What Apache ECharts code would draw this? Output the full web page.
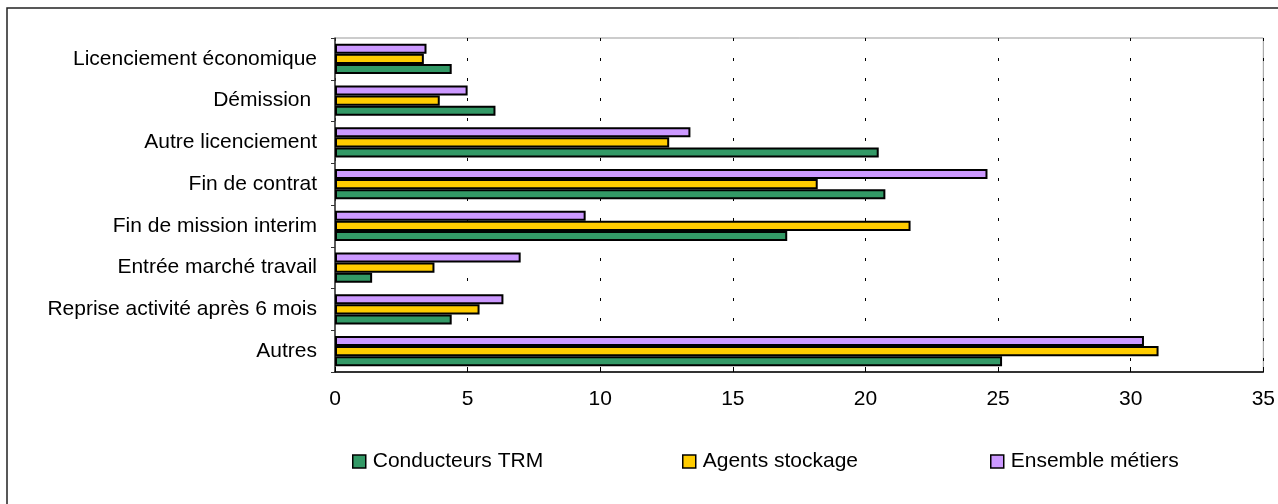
<!DOCTYPE html>
<html>
<head>
<meta charset="utf-8">
<script src="https://cdn.jsdelivr.net/npm/echarts@6/dist/echarts.min.js"></script>
<style>
  html, body { margin: 0; padding: 0; background: #fff; }
  #main { width: 1278px; height: 504px; }
</style>
</head>
<body>
<div id="main"></div>
<script>
// categories, top to bottom
var categories = ['Licenciement économique', 'Démission ', 'Autre licenciement', 'Fin de contrat',
    'Fin de mission interim', 'Entrée marché travail', 'Reprise activité après 6 mois', 'Autres'];
var conducteurs = [4.4, 6.05, 20.5, 20.75, 17.05, 1.4, 4.4, 25.15];
var agents = [3.35, 3.95, 12.6, 18.2, 21.7, 3.75, 5.45, 31.05];
var ensemble = [3.45, 5.0, 13.4, 24.6, 9.45, 7.0, 6.35, 30.5];
var xTicks = [0, 5, 10, 15, 20, 25, 30, 35];

var myChart = echarts.init(document.getElementById('main'));
var font = 'Liberation Sans, Arial, sans-serif';

function barSeries(name, data, color) {
    return {
        name: name,
        type: 'bar',
        data: data,
        barGap: '0%',
        barCategoryGap: '27%',
        itemStyle: { color: color, borderColor: '#000', borderWidth: 2 }
    };
}

function legendAt(name, left) {
    return {
        data: [name],
        left: left,
        top: 446,
        itemWidth: 13,
        itemHeight: 13,
        icon: 'rect',
        itemStyle: { borderColor: '#000', borderWidth: 1.5 },
        textStyle: { fontFamily: font, fontSize: 21, color: '#000', padding: [0, 0, 0, 2] }
    };
}

var option = {
    animation: false,
    backgroundColor: '#fff',
    graphic: [{
        type: 'rect',
        shape: { x: 7, y: 8, width: 1400, height: 700 },
        style: { fill: 'none', stroke: '#222', lineWidth: 1.5 },
        silent: true
    }],
    legend: [
        legendAt('Conducteurs TRM', 347),
        legendAt('Agents stockage', 677),
        legendAt('Ensemble métiers', 985)
    ],
    grid: {
        left: 335, right: 8, top: 38, bottom: 132,
        show: true, borderColor: '#999', borderWidth: 1
    },
    xAxis: {
        type: 'value',
        min: 0, max: 35, interval: 5,
        axisLine: { show: true, lineStyle: { color: '#000', width: 1.5 } },
        axisTick: { show: true, inside: true, length: 5, lineStyle: { color: '#000' } },
        axisLabel: {
            fontFamily: font, fontSize: 21, color: '#000', margin: 17,
            formatter: function (v) { return xTicks.indexOf(v) >= 0 ? String(v) : ''; }
        },
        splitLine: { show: true, lineStyle: { color: '#000', width: 1, type: [3, 17] } }
    },
    yAxis: {
        type: 'category',
        data: categories,
        inverse: true,
        axisLine: { show: true, lineStyle: { color: '#333', width: 1.5 } },
        axisTick: { show: true, length: 4, lineStyle: { color: '#333' } },
        axisLabel: { fontFamily: font, fontSize: 21, color: '#000', margin: 18 },
        splitLine: { show: false }
    },
    series: [
        barSeries('Ensemble métiers', ensemble, '#CC99FF'),
        barSeries('Agents stockage', agents, '#FFCC00'),
        barSeries('Conducteurs TRM', conducteurs, '#339966')
    ]
};

myChart.setOption(option);
</script>
</body>
</html>
